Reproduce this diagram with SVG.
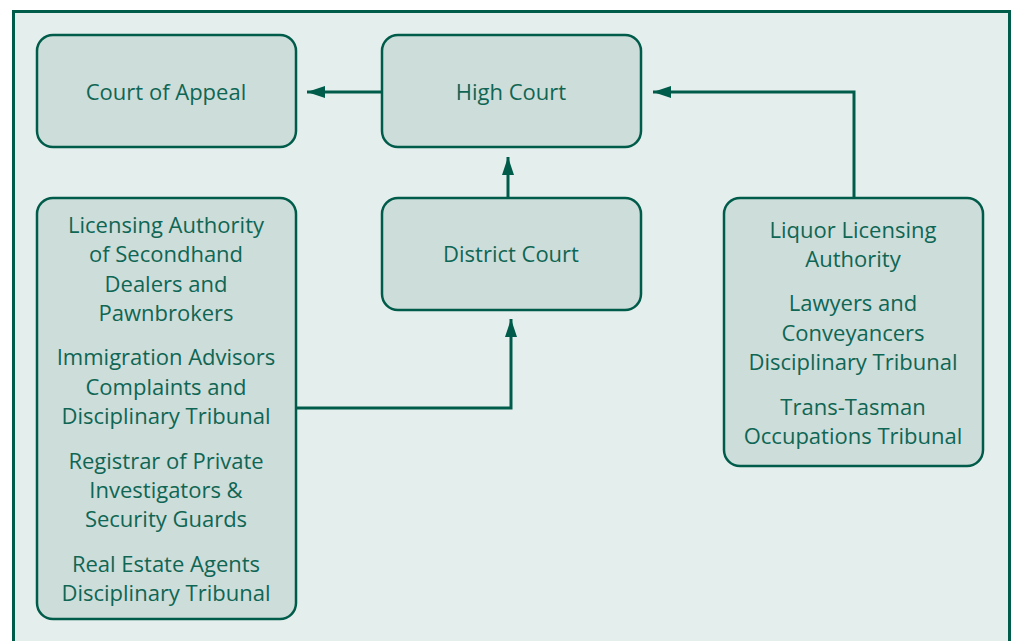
<svg xmlns="http://www.w3.org/2000/svg" width="1012" height="641" viewBox="0 0 1012 641">
<defs>
<style>
.node rect{fill:#cdddd9;stroke:#005c4a;stroke-width:2.5}
.node text{font-family:"Open Sans","Noto Sans",sans-serif;font-size:22px;fill:#0f6654;text-anchor:middle}
.conn path{fill:none;stroke:#005c4a;stroke-width:3}
</style>
<marker id="arr" viewBox="0 0 18 12" refX="18" refY="6" markerWidth="18" markerHeight="12" markerUnits="userSpaceOnUse" orient="auto">
<path d="M0,0 L18,6 L0,12 Z" fill="#005c4a"/>
</marker>
</defs>
<rect x="0" y="0" width="1012" height="641" fill="#ffffff"/>
<rect x="13.5" y="11.5" width="996" height="640" fill="#e4eeec" stroke="#005c4a" stroke-width="3"/>
<g class="conn">
<path d="M382,92 H307" marker-end="url(#arr)"/>
<path d="M508,198 V157" marker-end="url(#arr)"/>
<path d="M296,408 H511 V319" marker-end="url(#arr)"/>
<path d="M854,198 V92 H653" marker-end="url(#arr)"/>
</g>
<g id="court-of-appeal" class="node">
<rect x="37" y="35" width="259" height="112" rx="16"/>
<text x="166" y="100">Court of Appeal</text>
</g>
<g id="high-court" class="node">
<rect x="382" y="35" width="259" height="112" rx="16"/>
<text x="511" y="100">High Court</text>
</g>
<g id="district-court" class="node">
<rect x="382" y="198" width="259" height="112" rx="16"/>
<text x="511" y="262">District Court</text>
</g>
<g id="left-tribunals" class="node">
<rect x="37" y="198" width="259" height="421" rx="16"/>
<text x="166" y="233">Licensing Authority</text>
<text x="166" y="262">of Secondhand</text>
<text x="166" y="292">Dealers and</text>
<text x="166" y="321">Pawnbrokers</text>
<text x="166" y="365">Immigration Advisors</text>
<text x="166" y="395">Complaints and</text>
<text x="166" y="424">Disciplinary Tribunal</text>
<text x="166" y="469">Registrar of Private</text>
<text x="166" y="498">Investigators &amp;</text>
<text x="166" y="527">Security Guards</text>
<text x="166" y="572">Real Estate Agents</text>
<text x="166" y="601">Disciplinary Tribunal</text>
</g>
<g id="right-tribunals" class="node">
<rect x="724" y="198" width="259" height="268" rx="16"/>
<text x="853" y="238">Liquor Licensing</text>
<text x="853" y="267">Authority</text>
<text x="853" y="311">Lawyers and</text>
<text x="853" y="341">Conveyancers</text>
<text x="853" y="370">Disciplinary Tribunal</text>
<text x="853" y="415">Trans-Tasman</text>
<text x="853" y="444">Occupations Tribunal</text>
</g>
</svg>
